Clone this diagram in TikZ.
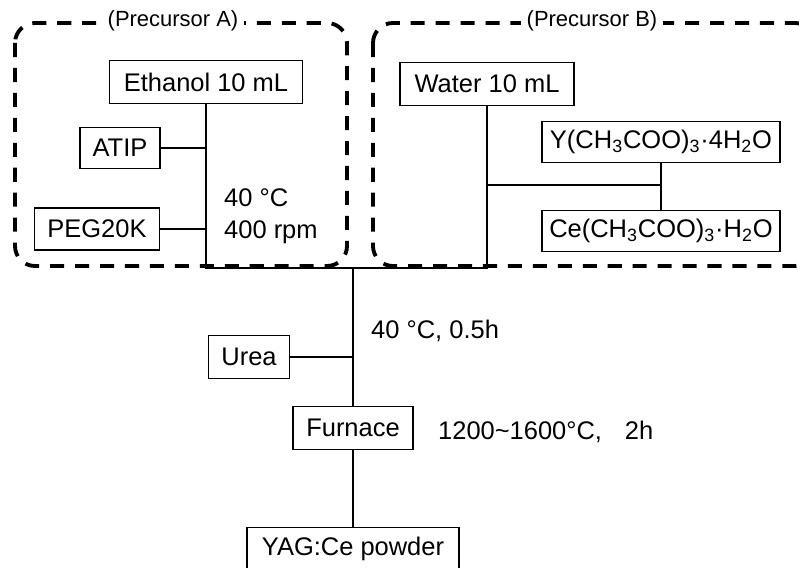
\documentclass[tikz,border=0pt]{standalone}
\usepackage{fontspec}
\setmainfont{Liberation Sans}
\usepackage{xcolor}

\begin{document}
\begin{tikzpicture}[x=0.02cm,y=-0.02cm,
        box/.style={draw,line width=0.6pt,minimum height=0.85cm,inner sep=2pt,font=\fontsize{14.5}{18}\selectfont},
        group/.style={draw,line width=2.2pt,dash pattern=on 8pt off 6.2pt,rounded corners=0.4cm},
        grouplabel/.style={fill=white,inner sep=3pt,font=\fontsize{12.5}{15}\selectfont},
        cond/.style={anchor=west,align=left,font=\fontsize{14.5}{18}\selectfont},
        thickline/.style={line width=1.5pt},
        thinline/.style={line width=1pt}]
        \useasboundingbox (0,0) rectangle (799,568);

        % precursor groups
        \draw[group] (15,23) rectangle (347,266);
        \draw[group] (373,23) rectangle (815,266);
        \node[grouplabel] (labA) at (173,21) {(Precursor A)};
        \node[grouplabel] (labB) at (592,21) {(Precursor B)};

        % precursor A
        \node[box,minimum width=3.86cm] (ethanol) at (206,82) {Ethanol 10 mL};
        \node[box,minimum width=1.6cm,minimum height=0.82cm] (atip) at (120,148) {ATIP};
        \node[box,minimum width=2.5cm,minimum height=0.84cm] (peg) at (97,229) {PEG20K};
        \node[cond] (stirA) at (218,216) {40 °C\\400 rpm};

        % precursor B
        \node[box,minimum width=3.48cm] (water) at (487,84) {Water 10 mL};
        \node[box,minimum width=4.76cm,minimum height=0.82cm] (ysalt) at (661,142) {Y(CH\textsubscript{3}COO)\textsubscript{3}·4H\textsubscript{2}O};
        \node[box,minimum width=4.76cm,minimum height=0.82cm] (cesalt) at (661,231) {Ce(CH\textsubscript{3}COO)\textsubscript{3}·H\textsubscript{2}O};

        % mixing and firing
        \node[box,minimum width=1.62cm] (urea) at (249,357) {Urea};
        \node[cond] (stirB) at (365,331) {40 °C, 0.5h};
        \node[box,minimum width=2.4cm] (furnace) at (353,428) {Furnace};
        \node[cond] (fire) at (432,432) {1200\textasciitilde1600°C,\hspace{0.9em}2h};
        \node[box,minimum width=4.24cm,minimum height=0.86cm] (yag) at (353,549) {YAG:Ce powder};

        \coordinate (mixA) at (206,268);
        \coordinate (mixB) at (487,268);
        \coordinate (mix) at (353,268);
        \coordinate (yce) at (661,185);

        \draw[thickline] (ethanol) -- (mixA) -- (mixB) -- (water);
        \draw[thickline] (atip) -- (atip -| mixA);
        \draw[thickline] (peg) -- (peg -| mixA);
        \draw[thickline] (ysalt) -- (cesalt);
        \draw[thickline] (yce) -- (yce -| mixB);
        \draw[thinline] (mix) -- (furnace);
        \draw[thinline] (urea) -- (urea -| mix);
        \draw[thinline] (furnace) -- (yag);
      \end{tikzpicture}
\end{document}
